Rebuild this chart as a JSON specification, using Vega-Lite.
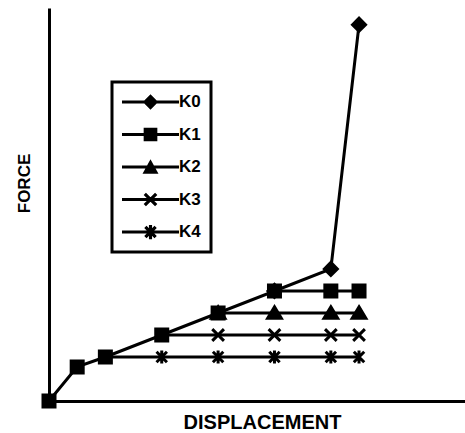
{
  "$schema": "https://vega.github.io/schema/vega-lite/v6.json",
  "width": 416,
  "height": 393,
  "autosize": "none",
  "padding": {"left": 49, "top": 8, "right": 0, "bottom": 32},
  "background": "white",
  "config": {
    "view": {"stroke": null},
    "axis": {
      "domainColor": "black",
      "domainWidth": 3,
      "ticks": false,
      "labels": false,
      "grid": false,
      "titleFont": "Liberation Sans",
      "titleFontWeight": "bold",
      "titleColor": "black"
    },
    "legend": {"strokeWidth": 3, "strokeColor": "black"}
  },
  "data": {
    "values": [
      {"series": "K1", "x": 0, "y": 0},
      {"series": "K1", "x": 0.5, "y": 1.55},
      {"series": "K1", "x": 1, "y": 2},
      {"series": "K1", "x": 2, "y": 3},
      {"series": "K1", "x": 3, "y": 4},
      {"series": "K1", "x": 4, "y": 5},
      {"series": "K1", "x": 5, "y": 5},
      {"series": "K1", "x": 5.5, "y": 5},
      {"series": "K0", "x": 4, "y": 5},
      {"series": "K0", "x": 5, "y": 6},
      {"series": "K0", "x": 5.5, "y": 17.1},
      {"series": "K2", "x": 3, "y": 4},
      {"series": "K2", "x": 4, "y": 4},
      {"series": "K2", "x": 5, "y": 4},
      {"series": "K2", "x": 5.5, "y": 4},
      {"series": "K3", "x": 2, "y": 3},
      {"series": "K3", "x": 3, "y": 3},
      {"series": "K3", "x": 4, "y": 3},
      {"series": "K3", "x": 5, "y": 3},
      {"series": "K3", "x": 5.5, "y": 3},
      {"series": "K4", "x": 1, "y": 2},
      {"series": "K4", "x": 2, "y": 2},
      {"series": "K4", "x": 3, "y": 2},
      {"series": "K4", "x": 4, "y": 2},
      {"series": "K4", "x": 5, "y": 2},
      {"series": "K4", "x": 5.5, "y": 2}
    ]
  },
  "encoding": {
    "x": {
      "field": "x", "type": "quantitative",
      "scale": {"domain": [0, 7.38], "nice": false},
      "axis": {"title": "DISPLACEMENT", "titleFontSize": 20, "titleBaseline": "alphabetic", "titleY": 27.5, "titleX": 213}
    },
    "y": {
      "field": "y", "type": "quantitative",
      "scale": {"domain": [0, 17.86], "nice": false},
      "axis": {"title": "FORCE", "titleFontSize": 17, "titleBaseline": "alphabetic", "titleX": -19.5, "titleY": 175}
    }
  },
  "layer": [
    {
      "mark": {"type": "line", "color": "black", "strokeWidth": 3},
      "encoding": {
        "detail": {"field": "series"},
        "order": {"field": "x", "type": "quantitative"}
      }
    },
    {
      "transform": [{"filter": "datum.series != 'K1'"}],
      "mark": {"type": "point", "filled": true, "fill": "black", "stroke": "black", "strokeWidth": 3, "opacity": 1, "size": 169},
      "encoding": {
        "shape": {
          "field": "series", "type": "nominal",
          "scale": {
            "domain": ["K0", "K1", "K2", "K3", "K4"],
            "range": ["diamond", "square", "M0,-0.95L1.05,0.8L-1.05,0.8Z", "M-0.9,-0.9L0.9,0.9M-0.9,0.9L0.9,-0.9", "M-0.8,-0.8L0.8,0.8M-0.8,0.8L0.8,-0.8M0,-1L0,1"]
          },
          "legend": null
        }
      }
    },
    {
      "transform": [{"filter": "datum.series == 'K1'"}],
      "mark": {"type": "point", "filled": true, "shape": "square", "fill": "black", "stroke": "black", "strokeWidth": 2, "opacity": 1, "size": 169}
    },
    {
      "transform": [{"filter": "false"}],
      "mark": {"type": "point", "filled": true, "fill": "black", "opacity": 1, "size": 3249},
      "encoding": {
        "shape": {
          "field": "series", "type": "nominal",
          "scale": {
            "domain": ["K0", "K1", "K2", "K3", "K4"],
            "range": [
              "M-1,-0.055L1,-0.055L1,0.055L-1,0.055ZM0,-0.27L0.27,0L0,0.27L-0.27,0Z",
              "M-1,-0.055L1,-0.055L1,0.055L-1,0.055ZM-0.24,-0.24L0.24,-0.24L0.24,0.24L-0.24,0.24Z",
              "M-1,-0.055L1,-0.055L1,0.055L-1,0.055ZM0,-0.27L0.28,0.24L-0.28,0.24Z",
              "M-1,-0.055L1,-0.055L1,0.055L-1,0.055ZM-0.16,-0.24L0.24,0.16L0.16,0.24L-0.24,-0.16ZM0.24,-0.16L-0.16,0.24L-0.24,0.16L0.16,-0.24Z",
              "M-1,-0.055L1,-0.055L1,0.055L-1,0.055ZM-0.14,-0.22L0.22,0.14L0.14,0.22L-0.22,-0.14ZM0.22,-0.14L-0.14,0.22L-0.22,0.14L0.14,-0.22ZM0.055,-0.25L0.055,0.25L-0.055,0.25L-0.055,-0.25Z"
            ]
          },
          "legend": {
            "title": null,
            "orient": "none",
            "legendX": 63,
            "legendY": 74,
            "clipHeight": 20,
            "rowPadding": 12.5,
            "padding": 10,
            "strokeColor": "black",
            "symbolSize": 3249,
            "symbolFillColor": "black",
            "symbolStrokeWidth": 0,
            "symbolOpacity": 1,
            "labelFont": "Liberation Sans",
            "labelFontWeight": "bold",
            "labelFontSize": 17,
            "labelColor": "black",
            "labelOffset": 0
          }
        }
      }
    }
  ],
  "resolve": {"scale": {"shape": "independent"}}
}
